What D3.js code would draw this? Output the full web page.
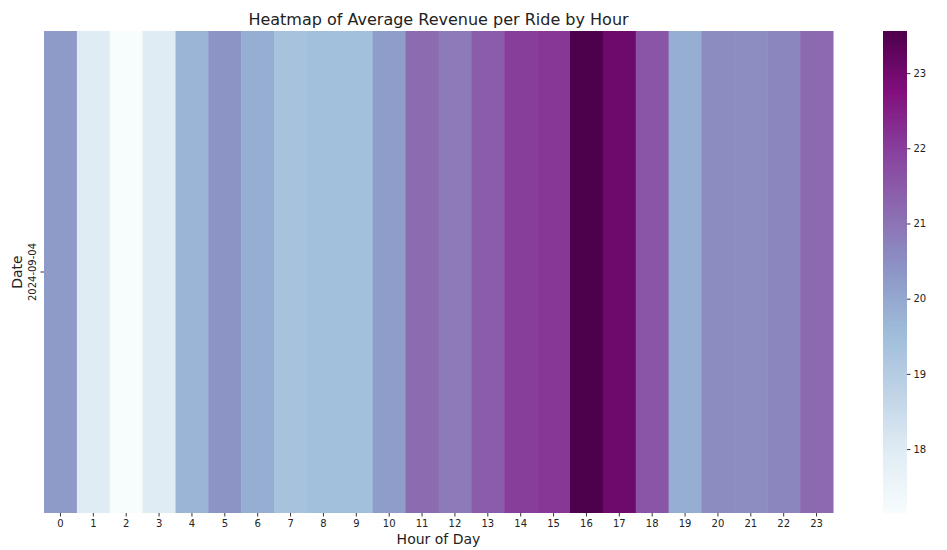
<!DOCTYPE html>
<html>
<head>
<meta charset="utf-8">
<script src="https://cdn.jsdelivr.net/npm/d3@7"></script>
<style>
  body { margin: 0; background: #fff; }
  text { font-family: "DejaVu Sans", sans-serif; fill: #222; }
</style>
</head>
<body>
<div id="chart"></div>
<script>
// hour of day, one date row
const hours = d3.range(24);
const dates = ["2024-09-04"];
// average revenue per ride
const revenue = [20.27, 17.95, 17.15, 17.95, 19.7, 20.4, 19.85, 19.33, 19.45, 19.45, 20.2, 21.15,
                 20.87, 21.45, 22.02, 22.1, 23.56, 23.05, 21.57, 19.85, 20.55, 20.5, 20.65, 21.2];
const cbarTicks = [18, 19, 20, 21, 22, 23];

// matplotlib BuPu stops
const buPu = ["#f7fcfd","#e0ecf4","#bfd3e6","#9ebcda","#8c96c6","#8c6bb1","#88419d","#810f7c","#4d004b"];

const W = 947, H = 550;
const margin = { top: 31, left: 44 };
const width = 833 - margin.left;
const height = 513 - margin.top;

const svg = d3.select("#chart").append("svg")
  .attr("width", W).attr("height", H);

const g = svg.append("g").attr("transform", `translate(${margin.left},${margin.top})`);

const vmin = d3.min(revenue), vmax = d3.max(revenue);
const color = d3.scaleLinear()
  .domain(buPu.map((c, i) => vmin + (vmax - vmin) * i / (buPu.length - 1)))
  .range(buPu)
  .interpolate(d3.interpolateRgb);

const x = d3.scaleBand().domain(hours).range([0, width]);
const y = d3.scaleBand().domain(dates).range([0, height]);

const cells = hours.map((h, i) => ({ hour: h, date: dates[0], v: revenue[i] }));

g.selectAll("rect.cell")
  .data(cells)
  .join("rect")
  .attr("class", "cell")
  .attr("x", d => x(d.hour))
  .attr("y", d => y(d.date))
  .attr("width", x.bandwidth() + 0.5)
  .attr("height", y.bandwidth())
  .attr("fill", d => color(d.v));

// x axis
const xAxis = g.append("g")
  .attr("transform", `translate(0,${height})`)
  .call(d3.axisBottom(x).tickSize(3.5).tickPadding(3));
xAxis.select(".domain").remove();
xAxis.selectAll(".tick line").attr("stroke", "#333");
xAxis.selectAll(".tick text").style("font-size", "10px").attr("fill", "#222");

// y axis
const yAxis = g.append("g")
  .call(d3.axisLeft(y).tickSize(3.5).tickPadding(3));
yAxis.select(".domain").remove();
yAxis.selectAll(".tick line").attr("stroke", "#333");
yAxis.selectAll(".tick text")
  .style("font-size", "10px")
  .attr("fill", "#222")
  .attr("transform", "rotate(-90)")
  .attr("x", 0).attr("y", -8)
  .attr("dy", "0")
  .style("text-anchor", "middle");

// axis labels
svg.append("text")
  .attr("x", margin.left + width / 2)
  .attr("y", 544)
  .style("text-anchor", "middle")
  .style("font-size", "14px")
  .text("Hour of Day");

svg.append("text")
  .attr("transform", `translate(22,${margin.top + height / 2}) rotate(-90)`)
  .style("text-anchor", "middle")
  .style("font-size", "14px")
  .text("Date");

// title
svg.append("text")
  .attr("x", margin.left + width / 2)
  .attr("y", 25)
  .style("text-anchor", "middle")
  .style("font-size", "16px")
  .text("Heatmap of Average Revenue per Ride by Hour");

// colorbar
const cbX = 883, cbW = 24;
const cy = d3.scaleLinear().domain([vmin, vmax]).range([513, 31]);
const steps = d3.range(0, 200).map(i => vmin + (vmax - vmin) * i / 199);
svg.append("g").selectAll("rect")
  .data(steps)
  .join("rect")
  .attr("x", cbX)
  .attr("width", cbW)
  .attr("y", d => cy(d) - (height / 199) - 0.5)
  .attr("height", height / 199 + 1)
  .attr("fill", d => color(d));
// cover the overshoot at the top
svg.append("rect").attr("x", cbX).attr("y", 0).attr("width", cbW).attr("height", 31).attr("fill", "#fff");

const cAxis = svg.append("g")
  .attr("transform", `translate(${cbX + cbW},0)`)
  .call(d3.axisRight(cy).tickValues(cbarTicks).tickFormat(d3.format("d")).tickSize(3.5).tickPadding(3));
cAxis.select(".domain").remove();
cAxis.selectAll(".tick line").attr("stroke", "#333");
cAxis.selectAll(".tick text").style("font-size", "10px").attr("fill", "#222");
</script>
</body>
</html>
